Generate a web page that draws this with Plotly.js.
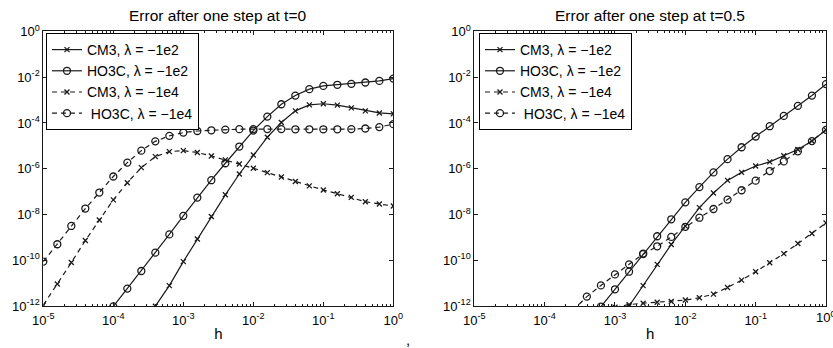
<!DOCTYPE html>
<html>
<head>
<meta charset="utf-8">
<script src="https://cdn.plot.ly/plotly-3.0.1.min.js"></script>
<style>html,body{margin:0;padding:0;background:#fff;}#chart{width:833px;height:348px;}</style>
</head>
<body>
<div id="chart"></div>
<script>
// step sizes h (log-spaced, 5 per decade)
const h = [1e-5, 1.585e-5, 2.512e-5, 3.981e-5, 6.310e-5,
           1e-4, 1.585e-4, 2.512e-4, 3.981e-4, 6.310e-4,
           1e-3, 1.585e-3, 2.512e-3, 3.981e-3, 6.310e-3,
           1e-2, 1.585e-2, 2.512e-2, 3.981e-2, 6.310e-2,
           1e-1, 1.585e-1, 2.512e-1, 3.981e-1, 6.310e-1, 1];

const seriesNames = ['CM3, \u03bb = \u22121e2', 'HO3C, \u03bb = \u22121e2',
                     'CM3, \u03bb = \u22121e4', '\u00a0HO3C, \u03bb = \u22121e4'];

// Left panel: t = 0
const t0_CM3_1e2 = [null, null, null, null, null, null, null, null,
  9.8e-13, 7.76e-12, 8.71e-11, 8.51e-10, 8.13e-9, 7.24e-8, 5.89e-7, 3.98e-6, 2.40e-5,
  1.05e-4, 3.39e-4, 6.17e-4, 6.92e-4, 6.03e-4, 4.57e-4, 3.39e-4, 2.75e-4, 2.51e-4];
const t0_HO3C_1e2 = [null, null, null, null, null,
  9.55e-13, 5.75e-12, 3.39e-11, 2.14e-10, 1.35e-9, 8.71e-9, 5.50e-8, 3.16e-7, 1.74e-6,
  9.33e-6, 4.68e-5, 1.91e-4, 6.61e-4, 1.58e-3, 3.02e-3, 4.17e-3, 4.68e-3, 5.13e-3,
  5.89e-3, 6.92e-3, 8.71e-3];
const t0_CM3_1e4 = [1.10e-12, 9.12e-12, 7.94e-11, 7.24e-10, 5.75e-9, 4.37e-8, 2.45e-7,
  1.12e-6, 3.39e-6, 5.62e-6, 6.17e-6, 5.13e-6, 3.63e-6, 2.45e-6, 1.62e-6, 1.05e-6,
  6.76e-7, 4.37e-7, 2.75e-7, 1.78e-7, 1.17e-7, 8.13e-8, 5.62e-8, 3.63e-8, 2.88e-8, 2.34e-8];
const t0_HO3C_1e4 = [8.71e-11, 5.01e-10, 3.16e-9, 1.82e-8, 9.12e-8, 4.57e-7, 1.86e-6,
  6.17e-6, 1.58e-5, 2.75e-5, 3.80e-5, 4.47e-5, 4.79e-5, 5.13e-5, 5.37e-5, 5.4e-5,
  5.4e-5, 5.4e-5, 5.3e-5, 5.3e-5, 5.3e-5, 5.3e-5, 5.4e-5, 5.75e-5, 6.61e-5, 8.91e-5];

// Right panel: t = 0.5
const t5_CM3_1e2 = [null, null, null, null, null, null, null, null, null, null, null,
  1.0e-12, 7.76e-12, 6.61e-11, 4.90e-10, 3.09e-9, 2.00e-8, 8.71e-8, 3.09e-7, 6.92e-7,
  1.32e-6, 2.00e-6, 3.72e-6, 6.92e-6, 1.62e-5, 5.01e-5];
const t5_HO3C_1e2 = [null, null, null, null, null, null, null, null, null,
  9.33e-13, 5.37e-12, 3.16e-11, 1.95e-10, 1.12e-9, 6.17e-9, 3.39e-8, 1.58e-7, 6.92e-7,
  2.63e-6, 8.71e-6, 2.57e-5, 7.24e-5, 2.04e-4, 5.62e-4, 1.58e-3, 5.01e-3];
const t5_CM3_1e4 = [null, null, null, null, null, null, null, null, null, null,
  8.91e-13, 1.15e-12, 1.32e-12, 1.45e-12, 1.58e-12, 1.82e-12, 2.29e-12, 3.31e-12,
  6.46e-12, 1.35e-11, 3.16e-11, 7.76e-11, 1.95e-10, 5.37e-10, 1.48e-9, 4.27e-9];
const t5_HO3C_1e4 = [null, null, null, null, null, null, null,
  6.31e-13, 2.57e-12, 7.94e-12, 2.40e-11, 6.61e-11, 1.86e-10, 4.07e-10, 1.05e-9, 2.88e-9,
  7.24e-9, 1.74e-8, 4.47e-8, 1.15e-7, 3.02e-7, 7.94e-7, 2.09e-6, 5.75e-6, 1.62e-5, 5.01e-5];

const xTickVals = [1e-5, 1e-4, 1e-3, 1e-2, 1e-1, 1];
const xTickText = ['10<sup>-5</sup>', '10<sup>-4</sup>', '10<sup>-3</sup>', '10<sup>-2</sup>', '10<sup>-1</sup>', '10<sup>0</sup>'];
const yTickVals = [1e-12, 1e-10, 1e-8, 1e-6, 1e-4, 1e-2, 1];
const yTickText = ['10<sup>-12</sup>', '10<sup>-10</sup>', '10<sup>-8</sup>', '10<sup>-6</sup>', '10<sup>-4</sup>', '10<sup>-2</sup>', '10<sup>0</sup>'];

const ink = '#1a1a1a';
const FONT = 'Liberation Sans, Arial, Helvetica, sans-serif';

function styleFor(i) {
  const isCM3 = (i % 2 === 0);
  const dashed = i >= 2;
  return {
    line: {color: ink, width: 1.2, dash: dashed ? '5px,4px' : 'solid'},
    marker: isCM3
      ? {symbol: 'x-thin-open', size: 5, color: ink, line: {color: ink, width: 1.3}}
      : {symbol: 'circle-open', size: 7, color: ink, line: {color: ink, width: 1.3}}
  };
}

const leftSeries = [t0_CM3_1e2, t0_HO3C_1e2, t0_CM3_1e4, t0_HO3C_1e4];
const rightSeries = [t5_CM3_1e2, t5_HO3C_1e2, t5_CM3_1e4, t5_HO3C_1e4];

const traces = [];
leftSeries.forEach((ys, i) => {
  const s = styleFor(i);
  traces.push({x: h, y: ys, name: seriesNames[i], type: 'scatter', mode: 'lines+markers',
    line: s.line, marker: s.marker, xaxis: 'x', yaxis: 'y', legend: 'legend', connectgaps: false});
});
rightSeries.forEach((ys, i) => {
  const s = styleFor(i);
  traces.push({x: h, y: ys, name: seriesNames[i], type: 'scatter', mode: 'lines+markers',
    line: s.line, marker: s.marker, xaxis: 'x2', yaxis: 'y2', legend: 'legend2', connectgaps: false});
});

const minorVals = [];
for (let e = -5; e < 0; e++) for (let m = 2; m <= 9; m++) minorVals.push(m * Math.pow(10, e));

function xAxis(domain, anchor) {
  return {
    type: 'log', range: [-5, 0], domain: domain, anchor: anchor,
    tickmode: 'array', tickvals: xTickVals, ticktext: xTickText,
    ticks: 'inside', ticklen: 4, tickwidth: 1, tickcolor: ink,
    minor: {tickmode: 'array', tickvals: minorVals, ticks: 'inside', ticklen: 2, tickwidth: 1, tickcolor: ink},
    showline: true, linecolor: ink, linewidth: 1, mirror: 'allticks',
    showgrid: false, zeroline: false, ticklabelstandoff: 2,
    tickfont: {family: FONT, size: 13, color: '#000'},
    title: {text: 'h', font: {family: FONT, size: 15, color: '#000'}, standoff: 1},
    automargin: false
  };
}
function yAxis(domain, anchor) {
  return {
    type: 'log', range: [-12, 0], domain: domain, anchor: anchor,
    tickmode: 'array', tickvals: yTickVals, ticktext: yTickText,
    ticks: 'inside', ticklen: 4, tickwidth: 1, tickcolor: ink,
    showline: true, linecolor: ink, linewidth: 1, mirror: 'allticks',
    showgrid: false, zeroline: false,
    tickfont: {family: FONT, size: 13, color: '#000'},
    automargin: false
  };
}

const yDom = [0.1207, 0.9095];
function legendAt(xp) {
  return {x: xp, y: 0.9052, xanchor: 'left', yanchor: 'top', bgcolor: '#fff',
    bordercolor: '#000', borderwidth: 1, font: {family: FONT, size: 14, color: '#000'},
    itemwidth: 30, tracegroupgap: 0};
}

const layout = {
  width: 833, height: 348,
  margin: {l: 0, r: 0, t: 0, b: 0},
  paper_bgcolor: '#fff', plot_bgcolor: '#fff',
  showlegend: true,
  xaxis: xAxis([0.0520, 0.4722], 'y'),
  yaxis: yAxis(yDom, 'x'),
  xaxis2: xAxis([0.5694, 0.9916], 'y2'),
  yaxis2: yAxis(yDom, 'x2'),
  legend: legendAt(0.0552),
  legend2: legendAt(0.575),
  annotations: [
    {text: 'Error after one step at t=0', xref: 'paper', yref: 'paper', x: 0.2617, y: (348 - 15) / 348,
     xanchor: 'center', yanchor: 'middle', showarrow: false, font: {family: FONT, size: 15.5, color: '#000'}},
    {text: 'Error after one step at t=0.5', xref: 'paper', yref: 'paper', x: 0.7803, y: (348 - 15) / 348,
     xanchor: 'center', yanchor: 'middle', showarrow: false, font: {family: FONT, size: 15.5, color: '#000'}},
    {text: '10<sup>0</sup>', xref: 'paper', yref: 'paper', x: 826 / 833, y: (348 - 317) / 348,
     xanchor: 'center', yanchor: 'middle', showarrow: false, font: {family: FONT, size: 13, color: '#000'}},
    {text: ',', xref: 'paper', yref: 'paper', x: 408 / 833, y: (348 - 339) / 348,
     xanchor: 'center', yanchor: 'middle', showarrow: false, font: {family: FONT, size: 15, color: '#000'}}
  ]
};

Plotly.newPlot('chart', traces, layout, {staticPlot: true, displayModeBar: false});
</script>
</body>
</html>
